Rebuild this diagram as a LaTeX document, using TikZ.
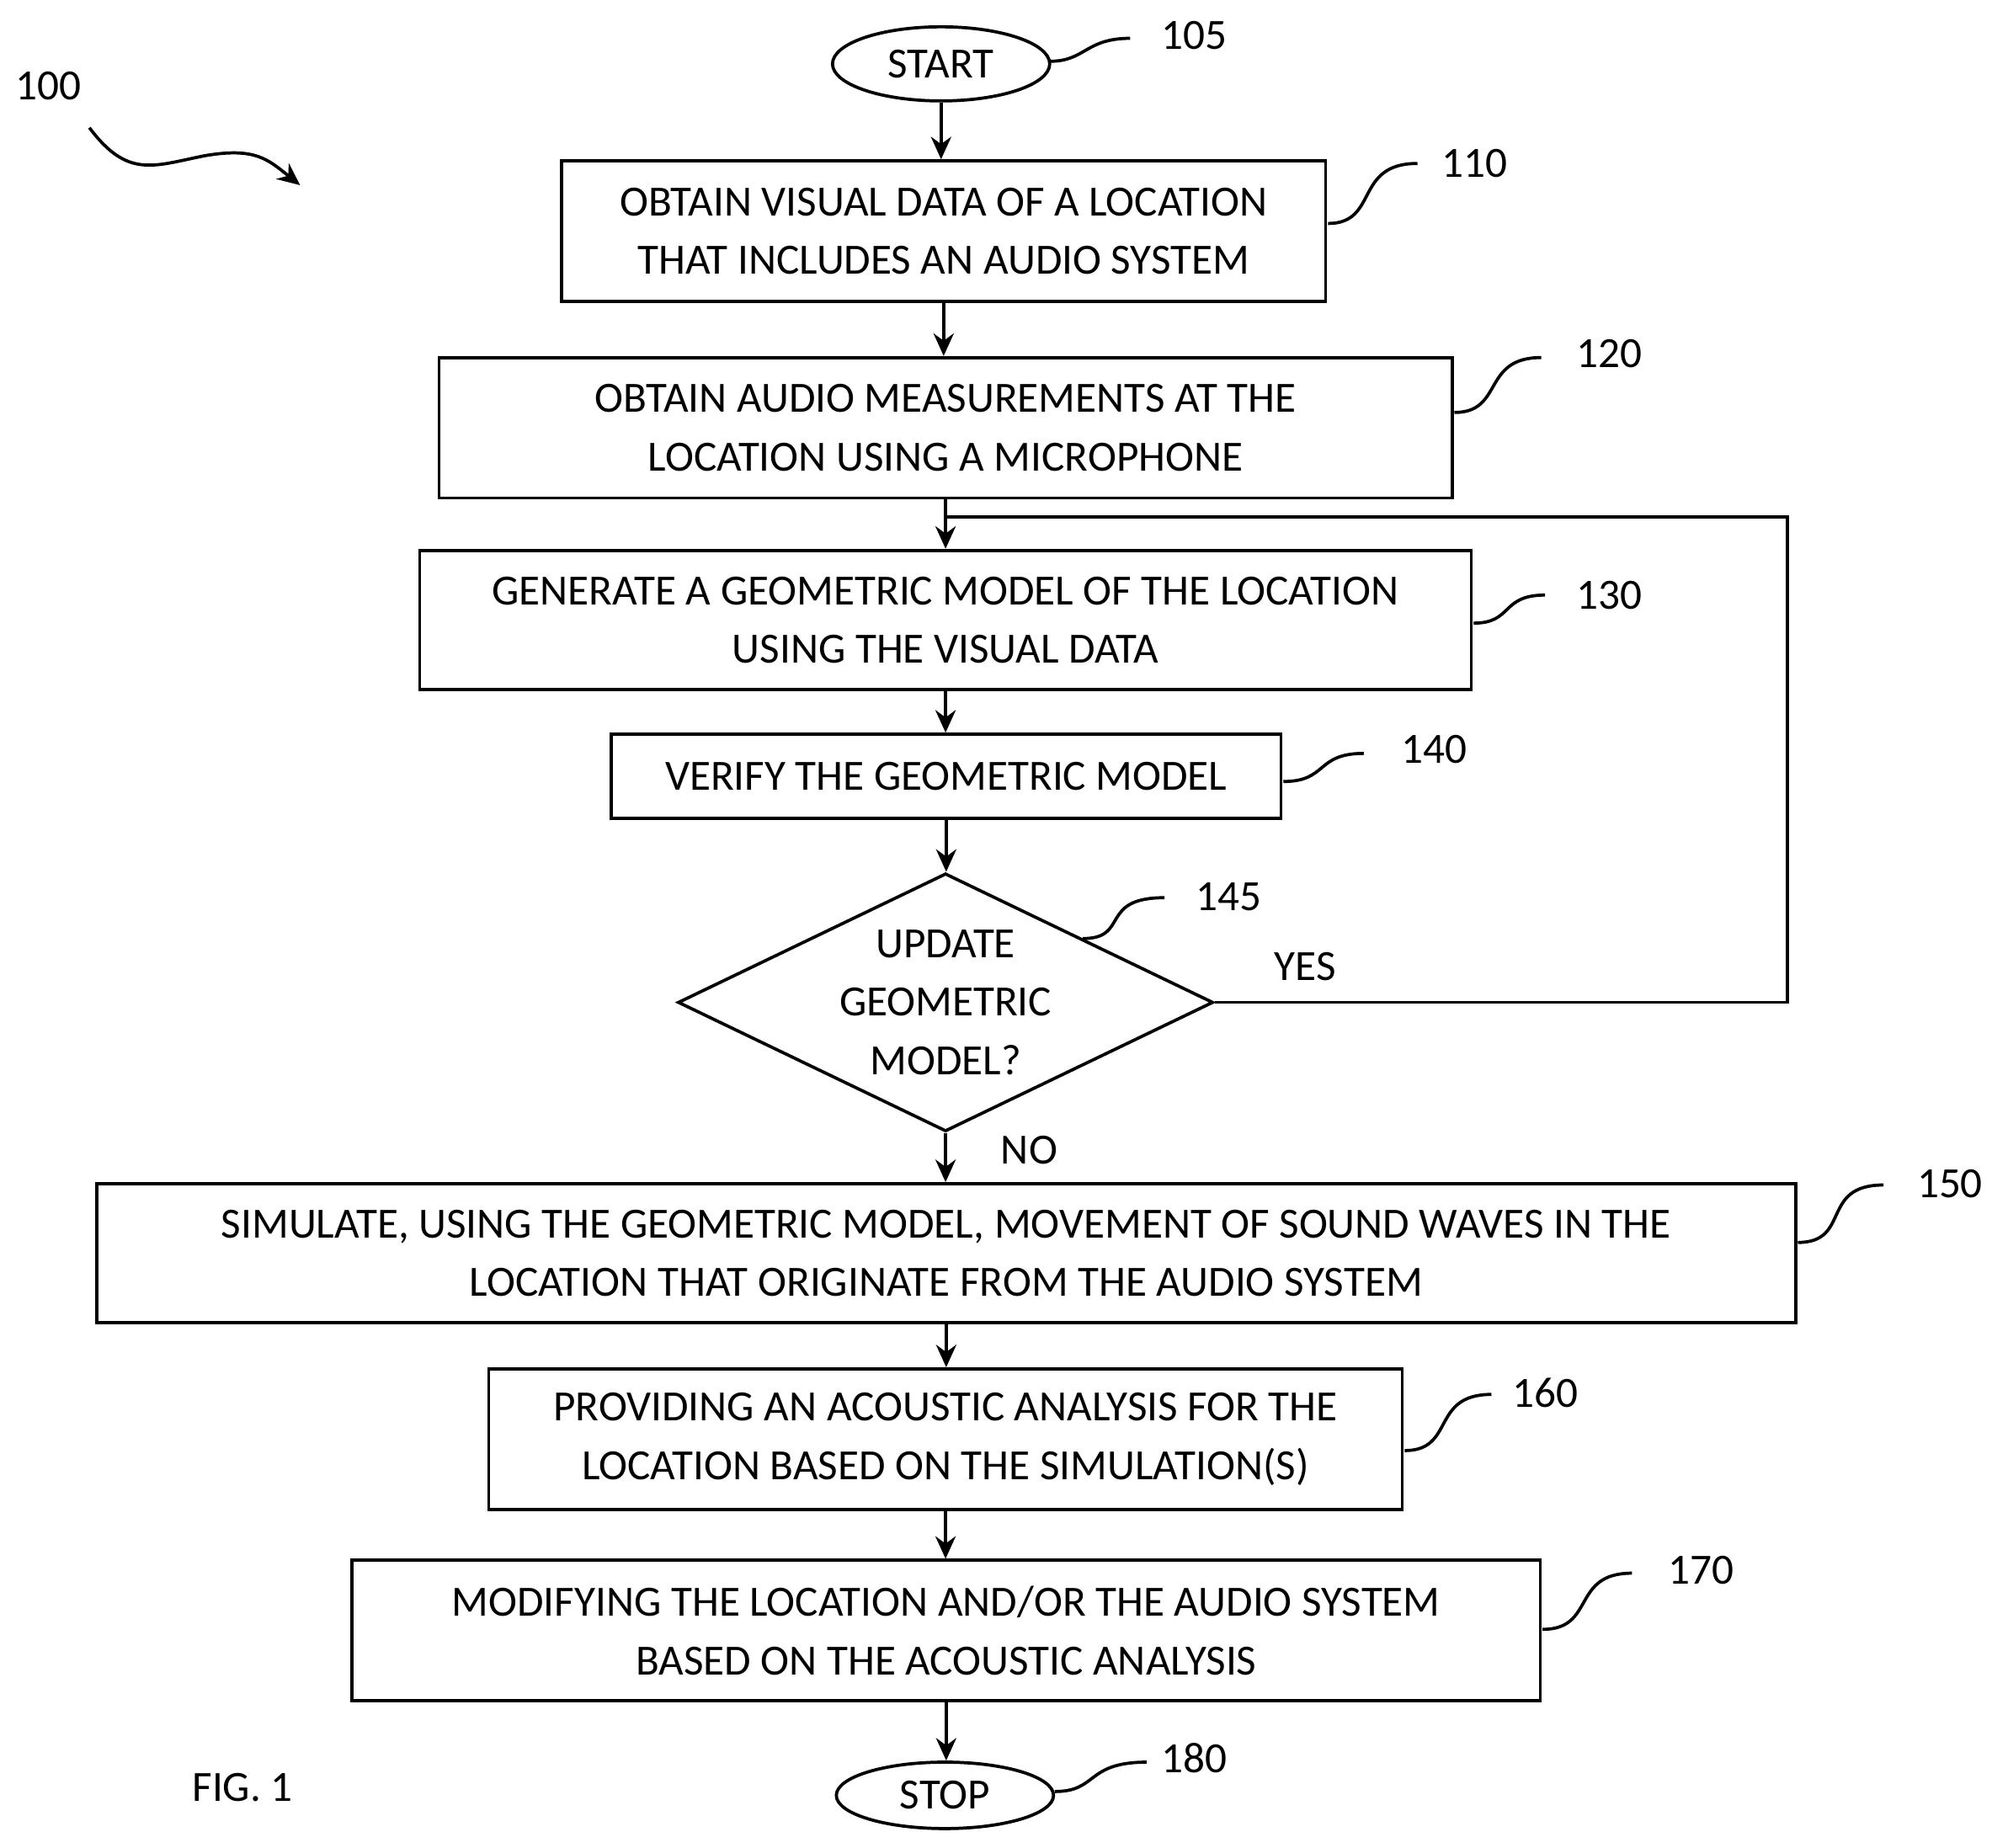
\documentclass[tikz,border=0pt]{standalone}
\usepackage{fontspec}
\setmainfont{Carlito}
\usetikzlibrary{shapes.geometric,arrows.meta}
\begin{document}
\begin{tikzpicture}[x=0.01cm,y=-0.01cm,
  every node/.style={font=\fontsize{9.6}{13}\selectfont},
  box/.style={draw,line width=0.7pt,align=center,inner sep=0pt},
  arr/.style={-{Stealth[length=5pt,width=4.5pt]},line width=0.8pt},
  sq/.style={line width=0.7pt},
  lbl/.style={anchor=center}]
\useasboundingbox (0,0) rectangle (1560,1447);
\node[box,ellipse,minimum width=1.70cm,minimum height=0.58cm] (start) at (737,50) {START};
\node[box,minimum width=5.98cm,minimum height=1.10cm] (b110) at (739,181) {OBTAIN VISUAL DATA OF A LOCATION\\THAT INCLUDES AN AUDIO SYSTEM};
\node[box,minimum width=7.93cm,minimum height=1.10cm] (b120) at (740.5,335) {OBTAIN AUDIO MEASUREMENTS AT THE\\LOCATION USING A MICROPHONE};
\node[box,minimum width=8.23cm,minimum height=1.09cm] (b130) at (740.5,485.5) {GENERATE A GEOMETRIC MODEL OF THE LOCATION\\USING THE VISUAL DATA};
\node[box,minimum width=5.24cm,minimum height=0.66cm] (b140) at (741,608) {VERIFY THE GEOMETRIC MODEL};
\node[box,diamond,minimum width=4.19cm,minimum height=2.02cm,aspect=2.07] (d145) at (740.5,785) {UPDATE\\GEOMETRIC\\MODEL?};
\node[box,minimum width=13.30cm,minimum height=1.09cm] (b150) at (741,981.5) {SIMULATE, USING THE GEOMETRIC MODEL, MOVEMENT OF SOUND WAVES IN THE\\LOCATION THAT ORIGINATE FROM THE AUDIO SYSTEM};
\node[box,minimum width=7.15cm,minimum height=1.10cm] (b160) at (740.5,1127) {PROVIDING AN ACOUSTIC ANALYSIS FOR THE\\LOCATION BASED ON THE SIMULATION(S)};
\node[box,minimum width=9.30cm,minimum height=1.10cm] (b170) at (741,1277) {MODIFYING THE LOCATION AND/OR THE AUDIO SYSTEM\\BASED ON THE ACOUSTIC ANALYSIS};
\node[box,ellipse,minimum width=1.70cm,minimum height=0.52cm] (stop) at (740,1406) {STOP};

\draw[arr] (start) -- (start|-b110.north);
\draw[arr] (b110) -- (b110|-b120.north);
\draw[arr] (b120) -- (b120|-b130.north);
\draw[arr] (b130) -- (b130|-b140.north);
\draw[arr] (b140) -- (b140|-d145.north);
\draw[arr] (d145) -- (d145|-b150.north);
\draw[arr] (b150) -- (b150|-b160.north);
\draw[arr] (b160) -- (b160|-b170.north);
\draw[arr] (b170) -- (b170|-stop.north);
\coordinate (c1) at (1400,785);
\coordinate (c2) at (1400,405);
\coordinate (c3) at (740.5,405);
\draw[line width=0.7pt] (d145.east) -- (c1) -- (c2) -- (c3);
\node at (1022,757) {YES};
\node at (806,901) {NO};

\node (l100) at (38,67) {100};
\node (l105) at (935,28) {105};
\node (l110) at (1155,128) {110};
\node (l120) at (1260,277) {120};
\node (l130) at (1260,466) {130};
\node (l140) at (1123,587) {140};
\node (l145) at (962,702) {145};
\node (l150) at (1527,927) {150};
\node (l160) at (1210,1091) {160};
\node (l170) at (1332,1230) {170};
\node (l180) at (935,1377) {180};
\node (fig) at (190,1400) {FIG. 1};

\coordinate (s105) at (885,30); \draw[sq] (822,48) .. controls (850,48) and (850,30) .. (s105);
\coordinate (s110) at (1110,128); \draw[sq] (1040,175) .. controls (1080,175) and (1060,128) .. (s110);
\coordinate (s120) at (1207,280); \draw[sq] (1139,323) .. controls (1178,323) and (1160,280) .. (s120);
\coordinate (s130) at (1210,466); \draw[sq] (1154,488) .. controls (1185,488) and (1175,466) .. (s130);
\coordinate (s140) at (1068,590); \draw[sq] (1005,612) .. controls (1040,612) and (1030,590) .. (s140);
\coordinate (s145) at (912,703); \draw[sq] (848,735) .. controls (885,735) and (860,703) .. (s145);
\coordinate (s150) at (1475,928); \draw[sq] (1408,973) .. controls (1450,973) and (1425,928) .. (s150);
\coordinate (s160) at (1168,1092); \draw[sq] (1100,1136) .. controls (1140,1136) and (1120,1092) .. (s160);
\coordinate (s170) at (1278,1232); \draw[sq] (1208,1276) .. controls (1250,1276) and (1230,1232) .. (s170);
\coordinate (s180) at (898,1380); \draw[sq] (826,1403) .. controls (860,1403) and (850,1380) .. (s180);
\coordinate (w1) at (70,100); \coordinate (w2) at (235,145);
\draw[arr,line width=0.7pt] (w1) .. controls (100,140) and (120,130) .. (160,122) .. controls (200,115) and (210,125) .. (w2);
\end{tikzpicture}
\end{document}
